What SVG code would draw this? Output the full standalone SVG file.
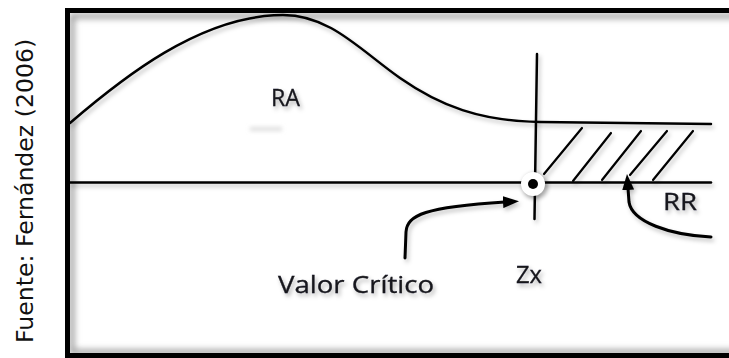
<svg xmlns="http://www.w3.org/2000/svg" width="729" height="358" viewBox="0 0 729 358">
<style>
.ln{fill:none;stroke:#000;stroke-width:2.5;stroke-linecap:round}
.hatch{fill:none;stroke:#000;stroke-width:2.2;stroke-linecap:round}
.arr{fill:none;stroke:#000;stroke-width:3;stroke-linecap:round}
.lbl{font-family:"Open Sans","Noto Sans",sans-serif;font-size:23px;fill:#15151c;stroke:#15151c;stroke-width:0.3}
.src{font-family:"DejaVu Sans",Verdana,sans-serif;font-size:23.6px;fill:#111}
</style>
<defs>
<filter id="sh" filterUnits="userSpaceOnUse" x="0" y="0" width="729" height="358">
<feDropShadow dx="2" dy="3" stdDeviation="2" flood-color="#000" flood-opacity="0.25"/>
</filter>
<filter id="tsh" filterUnits="userSpaceOnUse" x="0" y="0" width="729" height="358">
<feDropShadow dx="2" dy="3" stdDeviation="2" flood-color="#000" flood-opacity="0.3"/>
</filter>
<filter id="blur4" filterUnits="userSpaceOnUse" x="0" y="0" width="729" height="358"><feGaussianBlur stdDeviation="3"/></filter>
<filter id="blur2" filterUnits="userSpaceOnUse" x="0" y="0" width="729" height="358"><feGaussianBlur stdDeviation="2"/></filter>
<clipPath id="inner"><rect x="70" y="13" width="700" height="341"/></clipPath>
<marker id="ah" viewBox="0 0 16 12" markerWidth="16" markerHeight="12" refX="2" refY="6" orient="auto" markerUnits="userSpaceOnUse">
<path d="M0,0 L16,6 L0,12 z" fill="#000"/>
</marker>
</defs>
<rect width="729" height="358" fill="#fff"/>

<g id="source">
<text class="src" transform="translate(33,343) rotate(-90)">Fuente: Fernández (2006)</text>
</g>

<g id="frame">
<g clip-path="url(#inner)">
<rect x="72" y="16" width="700" height="336" fill="none" stroke="#9a9a9a" stroke-width="5" filter="url(#blur4)"/>
</g>
<rect x="67.5" y="10.5" width="720" height="345" fill="none" stroke="#000" stroke-width="5"/>
</g>

<g id="curve" filter="url(#sh)">
<path class="ln" d="M70,123 C120,80 200,15 283,15 C330,15 360,50 400,78 C440,106 480,121 540,122 L711,124"/>
</g>

<g id="axis" filter="url(#sh)">
<line class="ln" x1="70" y1="182.5" x2="711" y2="182.5"/>
</g>

<g id="critical-line" filter="url(#sh)">
<line class="ln" x1="537" y1="54" x2="534.5" y2="219"/>
</g>

<g id="rejection-hatch" filter="url(#sh)">
<line class="hatch" x1="544" y1="174" x2="582" y2="128"/>
<line class="hatch" x1="573" y1="181" x2="611" y2="133"/>
<line class="hatch" x1="602" y1="180" x2="641" y2="131"/>
<line class="hatch" x1="630" y1="175" x2="667" y2="131"/>
<line class="hatch" x1="653" y1="180" x2="693" y2="131"/>
</g>

<g id="critical-point">
<circle cx="535" cy="186" r="13" fill="#000" opacity="0.35" filter="url(#blur2)"/>
<circle cx="533" cy="184" r="12" fill="#fff"/>
<circle cx="533" cy="184" r="5" fill="#000"/>
</g>

<g id="connectors" filter="url(#sh)">
<path class="arr" d="M405,258 L406,232 C407,215 425,207 505,202" marker-end="url(#ah)"/>
<path class="arr" d="M711,237 C670,235 632,222 629,202 L628,188" marker-end="url(#ah)"/>
</g>

<g id="label-ra">
<rect x="250" y="127" width="32" height="4" fill="#ddd" filter="url(#blur2)"/>
<text class="lbl" x="271" y="106" textLength="29" lengthAdjust="spacingAndGlyphs" filter="url(#tsh)">RA</text>
</g>
<g id="label-rr">
<text class="lbl" x="663" y="210" textLength="34" lengthAdjust="spacingAndGlyphs" filter="url(#tsh)">RR</text>
</g>
<g id="label-zx">
<text class="lbl" x="516" y="283" textLength="26" lengthAdjust="spacingAndGlyphs" filter="url(#tsh)">Zx</text>
</g>
<g id="label-valor">
<text class="lbl" x="278" y="293" textLength="156" lengthAdjust="spacingAndGlyphs" filter="url(#tsh)">Valor Crítico</text>
</g>
</svg>
